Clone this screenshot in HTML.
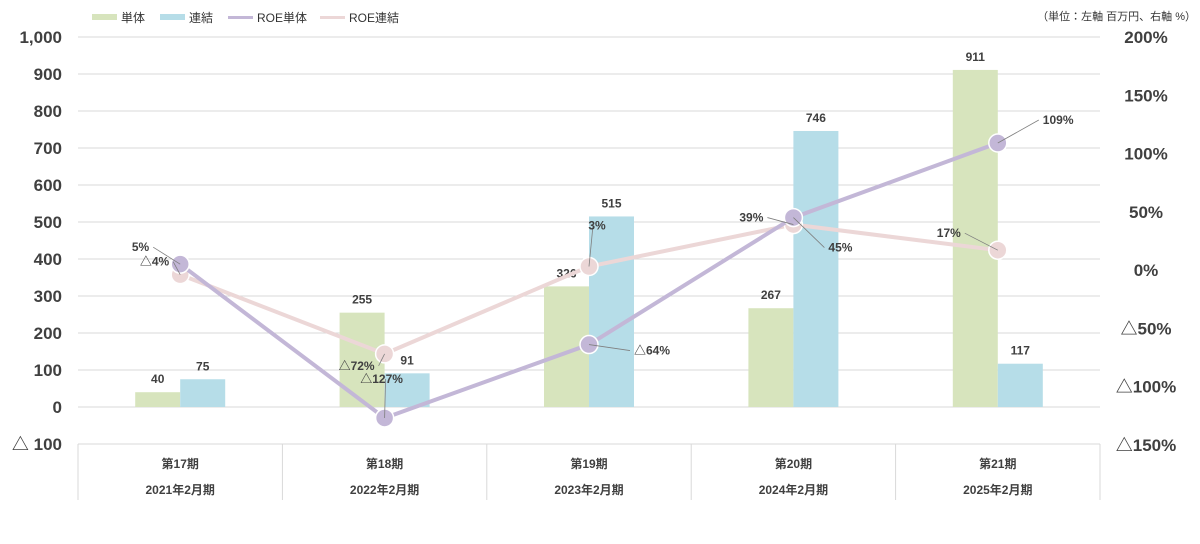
<!DOCTYPE html>
<html><head><meta charset="utf-8"><style>
body{margin:0;background:#fff;}
svg{display:block;font-family:"Liberation Sans","Noto Sans CJK JP",sans-serif;}
</style></head><body>
<svg id="c" width="1200" height="544" viewBox="0 0 1200 544"></svg>
<script>
const periods=["第17期","第18期","第19期","第20期","第21期"];
const fiscal=["2021年2月期","2022年2月期","2023年2月期","2024年2月期","2025年2月期"];
const tanTai=[40,255,326,267,911];
const renketsu=[75,91,515,746,117];
const roeTan=[5,-127,-64,45,109];
const roeRen=[-4,-72,3,39,17];
const leftTicks=[1000,900,800,700,600,500,400,300,200,100,0,-100];
const leftTickLabels=["1,000","900","800","700","600","500","400","300","200","100","0","△ 100"];
const rightTicks=[200,150,100,50,0,-50,-100,-150];
const rightTickLabels=["200%","150%","100%","50%","0%","△50%","△100%","△150%"];

const svg=document.getElementById('c');
const NS="http://www.w3.org/2000/svg";
function mk(t,a,txt){const e=document.createElementNS(NS,t);for(const k in a)e.setAttribute(k,a[k]);if(txt!==undefined)e.textContent=txt;svg.appendChild(e);return e;}
const X0=78,X1=1100,cw=(X1-X0)/periods.length;
const yL=v=>407-v*0.37;
const yR=v=>270-v*(233/200);
const cx=i=>X0+cw*(i+0.5);
const fmtP=v=>v<0?"△"+(-v)+"%":v+"%";

leftTicks.forEach((v,i)=>{
  if(v>=0){const g=mk('line',{x1:X0,x2:X1,y1:yL(v),y2:yL(v),stroke:'#d9d9d9','stroke-width':1});
  }
  const t=mk('text',{x:62,y:yL(v)+6,'text-anchor':'end','font-size':17,'font-weight':'bold',fill:'#404040'},leftTickLabels[i]);
  
});
rightTicks.forEach((v,i)=>{
  const t=mk('text',{x:1146,y:yR(v)+6,'text-anchor':'middle','font-size':17,'font-weight':'bold',fill:'#404040'},rightTickLabels[i]);
  
});
const tb=mk('line',{x1:X0,x2:X1,y1:444,y2:444,stroke:'#d9d9d9'});

for(let i=0;i<=periods.length;i++){const l=mk('line',{x1:X0+cw*i,x2:X0+cw*i,y1:444,y2:500,stroke:'#d9d9d9'});
}
periods.forEach((p,i)=>{
  const a=mk('text',{x:cx(i),y:468,'text-anchor':'middle','font-size':12,'font-weight':'bold',fill:'#404040'},p);
  
  const b=mk('text',{x:cx(i),y:494,'text-anchor':'middle','font-size':12,'font-weight':'bold',fill:'#404040'},fiscal[i]);
  
});
const bw=45;
periods.forEach((p,i)=>{
  const g=mk('rect',{x:cx(i)-bw,y:yL(tanTai[i]),width:bw,height:yL(0)-yL(tanTai[i]),fill:'#d7e4bd'});
  
  const b=mk('rect',{x:cx(i),y:yL(renketsu[i]),width:bw,height:yL(0)-yL(renketsu[i]),fill:'#b6dde8'});
  
  const t1=mk('text',{x:cx(i)-bw/2,y:yL(tanTai[i])-9,'text-anchor':'middle','font-size':12,'font-weight':'bold',fill:'#404040'},tanTai[i]);
  
  const t2=mk('text',{x:cx(i)+bw/2,y:yL(renketsu[i])-9,'text-anchor':'middle','font-size':12,'font-weight':'bold',fill:'#404040'},renketsu[i]);
  
});
function series(vals,col,name){
  const pl=mk('polyline',{points:vals.map((v,i)=>cx(i)+','+yR(v)).join(' '),fill:'none',stroke:col,'stroke-width':4});
  
  vals.forEach((v,i)=>{const c=mk('circle',{cx:cx(i),cy:yR(v),r:9,fill:col,stroke:'#fff','stroke-width':1.5});
  });
}
series(roeRen,'#ecd7d7','roe-renketsu');
series(roeTan,'#c3b7d7','roe-tantai');
const tanOff=[[-31,-13],[-3,-35],[45,10],[35,34],[45,-19]];
const renOff=[[-11,-9],[-10,16],[8,-37],[-30,-3],[-37,-13]];
function lbl(vals,off,name){
  vals.forEach((v,i)=>{
    const px=cx(i),py=yR(v),lx=px+off[i][0],ly=py+off[i][1];
    const ln=mk('line',{x1:px,y1:py,x2:lx+(off[i][0]>0?-4:4),y2:ly-4,stroke:'#7f7f7f','stroke-width':0.8});
    
    const t=mk('text',{x:lx,y:ly,'text-anchor':off[i][0]>0?'start':'end','font-size':12,'font-weight':'bold',fill:'#404040'},fmtP(v));
    if(Math.abs(off[i][0])<9){t.setAttribute('text-anchor','middle');}
    
  });
}
lbl(roeTan,tanOff,'roe-tantai');
lbl(roeRen,renOff,'roe-renketsu');
const leg=[["単体","#d7e4bd","rect",92],["連結","#b6dde8","rect",160],["ROE単体","#c3b7d7","line",228],["ROE連結","#ecd7d7","line",320]];
leg.forEach(l=>{
  const s=mk('rect',{x:l[3],y:l[2]=="rect"?14:16,width:25,height:l[2]=="rect"?6:3,fill:l[1]});
  
  const t=mk('text',{x:l[3]+29,y:22,'font-size':12,fill:'#333'},l[0]);
  
});
const u=mk('text',{x:1196,y:20,'text-anchor':'end','font-size':11,fill:'#333'},"（単位：左軸 百万円、右軸 %）");

</script>
</body></html>
